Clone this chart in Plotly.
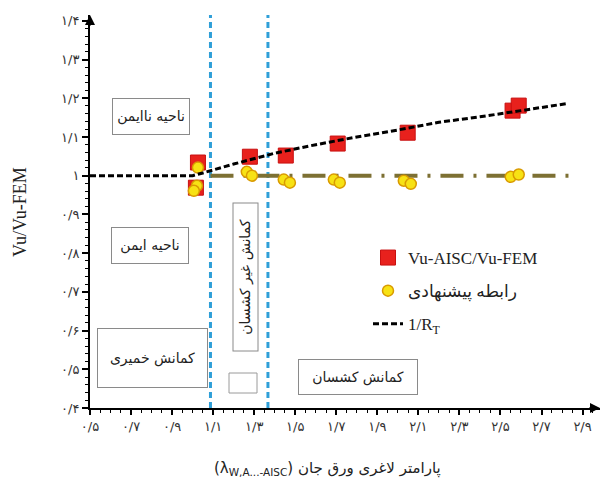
import plotly.graph_objects as go

# ---------------- data ----------------
lam_aisc = [1.026, 1.016, 1.279, 1.454, 1.707, 2.048, 2.559, 2.589]
ratio_aisc = [1.034, 0.969, 1.049, 1.052, 1.083, 1.111, 1.168, 1.181]

lam_prop = [1.026, 1.021, 1.006, 1.264, 1.289, 1.444, 1.474, 1.688, 1.717, 2.029, 2.063, 2.550, 2.589]
ratio_prop = [1.021, 0.974, 0.961, 1.010, 1.000, 0.990, 0.982, 0.990, 0.982, 0.987, 0.979, 0.997, 1.003]

lam_rt = [0.5, 1.0, 1.05, 1.2, 1.4, 1.6, 1.8, 2.0, 2.2, 2.4, 2.6, 2.82]
inv_rt = [1.0, 1.0, 1.007, 1.03, 1.058, 1.08, 1.10, 1.118, 1.138, 1.152, 1.168, 1.186]

region_bounds = [1.087, 1.367]
unity_x = [1.087, 2.86]
unity_y = [1.0, 1.0]

xticks = [0.5, 0.7, 0.9, 1.1, 1.3, 1.5, 1.7, 1.9, 2.1, 2.3, 2.5, 2.7, 2.9]
xtick_labels = ["۰/۵", "۰/۷", "۰/۹", "۱/۱", "۱/۳", "۱/۵", "۱/۷", "۱/۹", "۲/۱", "۲/۳", "۲/۵", "۲/۷", "۲/۹"]
yticks = [0.4, 0.5, 0.6, 0.7, 0.8, 0.9, 1.0, 1.1, 1.2, 1.3, 1.4]
ytick_labels = ["۰/۴", "۰/۵", "۰/۶", "۰/۷", "۰/۸", "۰/۹", "۱", "۱/۱", "۱/۲", "۱/۳", "۱/۴"]

XMIN, XMAX = 0.5, 2.985
YMIN, YMAX = 0.4, 1.415

PERSIAN = "DejaVu Sans"
SERIF = "Liberation Serif, DejaVu Sans"

fig = go.Figure()

# region boundaries (blue dashed verticals)
for b in region_bounds:
    fig.add_trace(go.Scatter(x=[b, b], y=[YMIN, YMAX], mode="lines",
                             line=dict(color="#2f9fd8", width=3, dash="6px,4px"),
                             showlegend=False, hoverinfo="skip"))

# unity line (olive dash-dot)
fig.add_trace(go.Scatter(x=unity_x, y=unity_y, mode="lines",
                         line=dict(color="#7d7033", width=4, dash="23px,10px,3px,10px"),
                         showlegend=False, hoverinfo="skip"))

fig.add_trace(go.Scatter(x=lam_aisc, y=ratio_aisc, mode="markers", name="Vu-AISC/Vu-FEM",
                         marker=dict(symbol="square", size=15, color="#e8211d",
                                     line=dict(color="#c81010", width=1)),
                         legendgroup="g1", legendrank=1))
fig.add_trace(go.Scatter(x=lam_prop, y=ratio_prop, mode="markers", name="رابطه پیشنهادی",
                         marker=dict(symbol="circle", size=11, color="#f7e214",
                                     line=dict(color="#d99a00", width=1.5)),
                         legendgroup="g2", legendrank=2))
fig.add_trace(go.Scatter(x=lam_rt, y=inv_rt, mode="lines", name="1/R<sub>T</sub>",
                         line=dict(color="black", width=3, dash="6px,3px"),
                         legendgroup="g3", legendrank=3))

# text boxes
box_style = dict(showarrow=False, bordercolor="#8a8a8a", borderwidth=1, bgcolor="white",
                 borderpad=0, font=dict(family=PERSIAN, size=14, color="#222"))
def px2x(px):
    return XMIN + (px - 90) / 510 * (XMAX - XMIN)
def px2y(py):
    return YMIN + (408 - py) / 393 * (YMAX - YMIN)

fig.add_annotation(x=px2x(151), y=px2y(116.5), text="ناحیه ناایمن", width=76, height=35, **box_style)
fig.add_annotation(x=px2x(150), y=px2y(245), text="ناحیه ایمن", width=76, height=35, **box_style)
fig.add_annotation(x=px2x(152.5), y=px2y(358), text="کمانش خمیری", width=109, height=58, **box_style)
fig.add_annotation(x=px2x(245), y=px2y(277.5), text="کمانش غیر کشسان", width=147, height=24,
                   textangle=-90, **box_style)
fig.add_annotation(x=px2x(358), y=px2y(377), text="کمانش کشسان", width=118, height=34, **box_style)
fig.add_shape(type="rect", x0=px2x(229), x1=px2x(257), y0=px2y(393), y1=px2y(373),
              line=dict(color="#9a9a9a", width=1), fillcolor="white")

# axis titles
fig.add_annotation(xref="paper", yref="paper", x=(20 - 90) / 510, y=(408 - 212) / 393,
                   xanchor="center", yanchor="middle",
                   text="Vu/Vu-FEM", textangle=-90, showarrow=False,
                   font=dict(family=SERIF, size=18, color="#222"))
fig.add_annotation(xref="paper", yref="paper", x=(327 - 90) / 510, y=(408 - 468) / 393,
                   xanchor="center", yanchor="middle",
                   text="(λ<sub>W,A...-AISC</sub>) پارامتر لاغری ورق جان", showarrow=False,
                   font=dict(family=PERSIAN, size=15, color="#222"))

# axis arrowheads
fig.add_annotation(xref="paper", yref="paper", x=1.0, y=0, ax=-12, ay=0, text="",
                   showarrow=True, arrowhead=2, arrowsize=1, arrowwidth=2, arrowcolor="black", standoff=0)
fig.add_annotation(xref="paper", yref="paper", x=0, y=1.0, ax=0, ay=12, text="",
                   showarrow=True, arrowhead=2, arrowsize=1, arrowwidth=2, arrowcolor="black", standoff=0)

fig.update_xaxes(range=[XMIN, XMAX], tickmode="array", tickvals=xticks, ticktext=xtick_labels,
                 showline=True, linecolor="black", linewidth=2, ticks="outside", ticklen=5,
                 tickcolor="black", tickwidth=1.5, showgrid=False, zeroline=False,
                 tickfont=dict(family=PERSIAN, size=13, color="#333"),
                 minor=dict(tickmode="linear", tick0=0.5, dtick=0.05, ticks="outside", ticklen=3,
                            tickcolor="black", tickwidth=1))
fig.update_yaxes(range=[YMIN, YMAX], tickmode="array", tickvals=yticks, ticktext=ytick_labels,
                 showline=True, linecolor="black", linewidth=2, ticks="outside", ticklen=6,
                 tickcolor="black", tickwidth=1.5, showgrid=False, zeroline=False,
                 tickfont=dict(family=PERSIAN, size=13, color="#333"),
                 minor=dict(tickmode="linear", tick0=0.4, dtick=0.02, ticks="outside", ticklen=3,
                            tickcolor="black", tickwidth=1))

fig.update_layout(width=608, height=486, margin=dict(l=90, r=8, t=15, b=78),
                  plot_bgcolor="white", paper_bgcolor="white",
                  legend=dict(x=(368 - 90) / 510, y=(408 - 240) / 393, xanchor="left", yanchor="top",
                              bgcolor="rgba(0,0,0,0)", font=dict(family=SERIF, size=17, color="#222"),
                              traceorder="grouped", tracegroupgap=8, itemwidth=30),
                  showlegend=True)

fig.write_html("out.html")
